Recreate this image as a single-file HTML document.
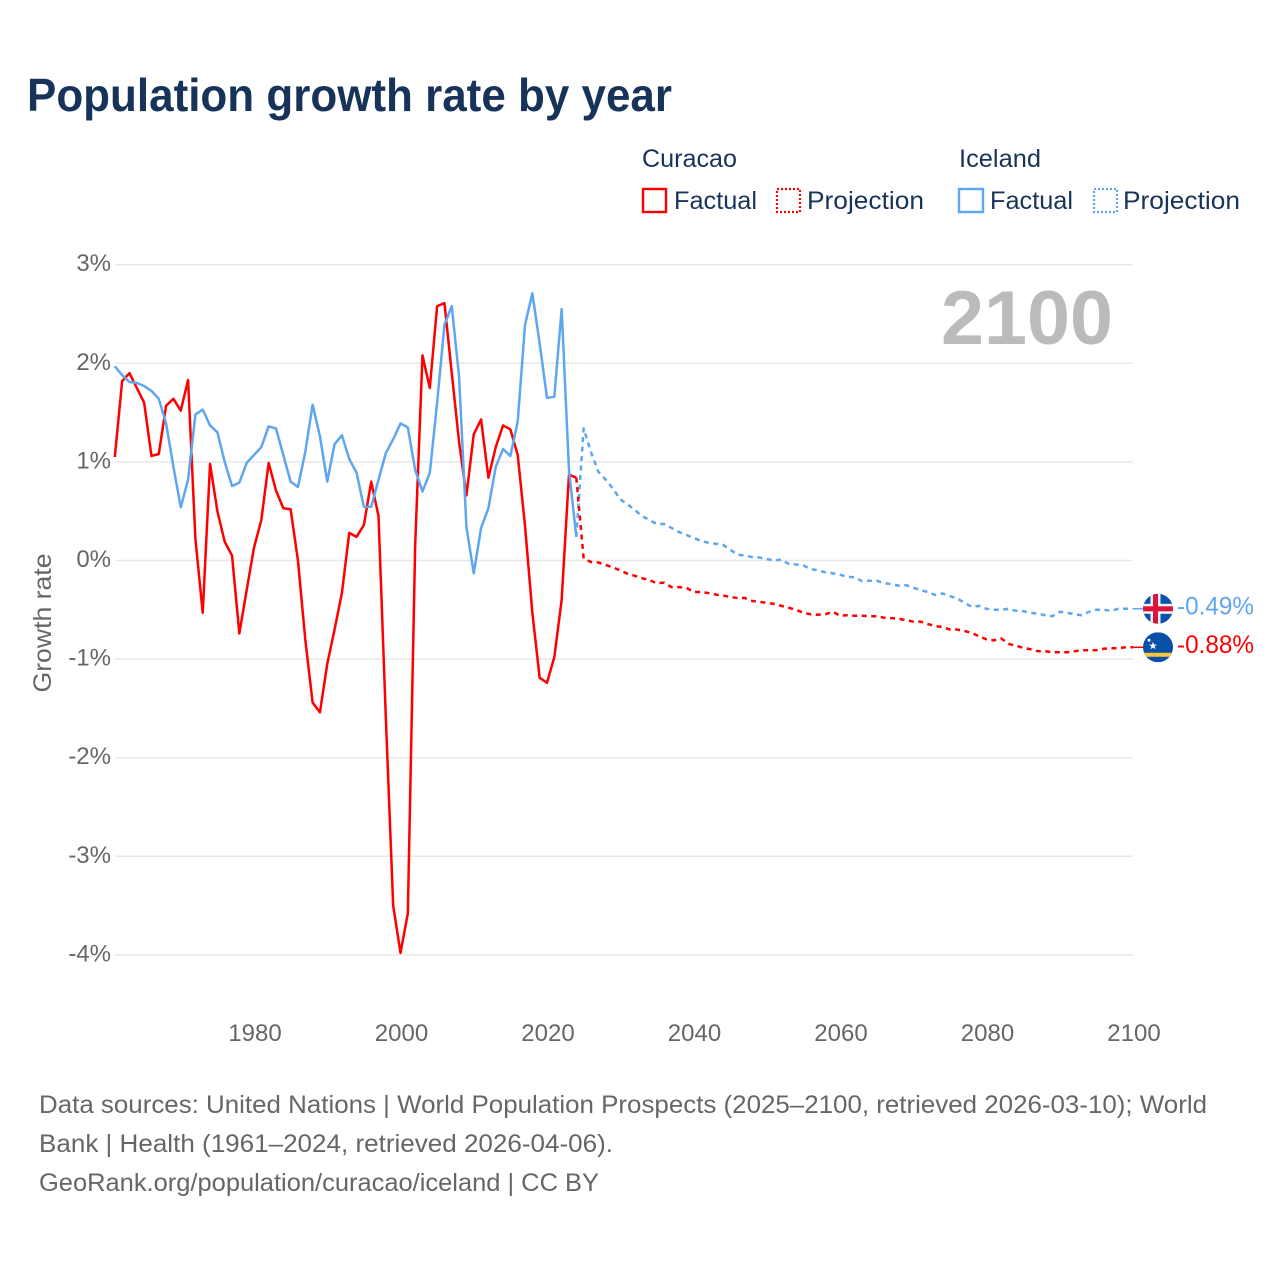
<!DOCTYPE html>
<html lang="en">
<head>
<meta charset="utf-8">
<title>Population growth rate by year</title>
<style>
html,body{margin:0;padding:0;background:#fff;}
svg{display:block;font-family:"Liberation Sans",sans-serif;}
</style>
</head>
<body>
<svg id="chart" xmlns="http://www.w3.org/2000/svg" width="1280" height="1280" viewBox="0 0 1280 1280">
  <rect x="0" y="0" width="1280" height="1280" fill="#ffffff"/>
  <text x="27" y="111" font-size="46" font-weight="700" fill="#18335a" textLength="645" lengthAdjust="spacingAndGlyphs">Population growth rate by year</text>

  <g font-size="25" fill="#18335a">
    <text x="642" y="167" textLength="95" lengthAdjust="spacingAndGlyphs">Curacao</text>
    <text x="959" y="167" textLength="82" lengthAdjust="spacingAndGlyphs">Iceland</text>
    <rect x="643" y="189" width="23" height="23" fill="none" stroke="#ff0000" stroke-width="2.4"/>
    <text x="674" y="209" textLength="83" lengthAdjust="spacingAndGlyphs">Factual</text>
    <rect x="777" y="189" width="23" height="23" fill="none" stroke="#ff0000" stroke-width="2.2" stroke-dasharray="2 2"/>
    <text x="807" y="209" textLength="117" lengthAdjust="spacingAndGlyphs">Projection</text>
    <rect x="959" y="189" width="24" height="23" fill="none" stroke="#5ea6ef" stroke-width="2.4"/>
    <text x="990" y="209" textLength="83" lengthAdjust="spacingAndGlyphs">Factual</text>
    <rect x="1094" y="189" width="23" height="23" fill="none" stroke="#5ea6ef" stroke-width="2.2" stroke-dasharray="2 2"/>
    <text x="1123" y="209" textLength="117" lengthAdjust="spacingAndGlyphs">Projection</text>
  </g>

  <g id="grid"></g>
  <g id="yticks"></g>
  <g id="xticks"></g>
  <text transform="translate(51,623) rotate(-90)" text-anchor="middle" font-size="25" fill="#666666" textLength="139" lengthAdjust="spacingAndGlyphs">Growth rate</text>
  <text x="1113" y="344" text-anchor="end" font-size="76" font-weight="700" fill="#bbbbbb" textLength="172" lengthAdjust="spacingAndGlyphs">2100</text>
  <g id="series"></g>

  <g id="flag-iceland">
    <clipPath id="clip-is"><circle cx="0" cy="0" r="15"/></clipPath>
    <g clip-path="url(#clip-is)">
      <rect x="-15" y="-15" width="30" height="30" fill="#0a52b0"/>
      <rect x="-15" y="-5" width="30" height="10" fill="#f2f2f2"/>
      <rect x="-7.5" y="-15" width="10" height="30" fill="#f2f2f2"/>
      <rect x="-15" y="-2.5" width="30" height="5" fill="#dc143c"/>
      <rect x="-5" y="-15" width="5" height="30" fill="#dc143c"/>
    </g>
  </g>
  <g id="flag-curacao">
    <clipPath id="clip-cw"><circle cx="0" cy="0" r="15"/></clipPath>
    <g clip-path="url(#clip-cw)">
      <rect x="-15" y="-15" width="30" height="30" fill="#0a4fa8"/>
      <rect x="-15" y="5.5" width="30" height="4" fill="#f5c93a"/>
      <polygon points="-5,-5.5 -4,-2.7 -1,-2.7 -3.4,-0.9 -2.5,2 -5,0.2 -7.5,2 -6.6,-0.9 -9,-2.7 -6,-2.7" fill="#ffffff"/>
      <circle cx="-9" cy="-7" r="1.5" fill="#ffffff"/>
    </g>
  </g>
  <text id="label-iceland" font-size="25" fill="#5ea6ef" textLength="77" lengthAdjust="spacingAndGlyphs"></text>
  <text id="label-curacao" font-size="25" fill="#ff0000" textLength="77" lengthAdjust="spacingAndGlyphs"></text>

  <g font-size="25" fill="#666666">
    <text x="39" y="1113" textLength="1168" lengthAdjust="spacingAndGlyphs">Data sources: United Nations | World Population Prospects (2025–2100, retrieved 2026-03-10); World</text>
    <text x="39" y="1152" textLength="574" lengthAdjust="spacingAndGlyphs">Bank | Health (1961–2024, retrieved 2026-04-06).</text>
    <text x="39" y="1191" textLength="560" lengthAdjust="spacingAndGlyphs">GeoRank.org/population/curacao/iceland | CC BY</text>
  </g>
</svg>
<script>
const yTickValues = [3, 2, 1, 0, -1, -2, -3, -4];
const xTickYears = [1980, 2000, 2020, 2040, 2060, 2080, 2100];
const factualStartYear = 1961;
const projectionStartYear = 2024;
const curacaoFactual = [1.05,1.82,1.90,1.75,1.60,1.06,1.08,1.57,1.64,1.52,1.83,0.22,-0.53,0.98,0.50,0.19,0.05,-0.74,-0.30,0.13,0.41,0.99,0.71,0.53,0.52,0.0,-0.80,-1.44,-1.54,-1.05,-0.70,-0.33,0.28,0.24,0.36,0.80,0.45,-1.60,-3.50,-3.98,-3.58,0.15,2.08,1.75,2.58,2.61,1.90,1.20,0.66,1.28,1.43,0.84,1.15,1.37,1.33,1.07,0.35,-0.53,-1.19,-1.24,-0.98,-0.40,0.87,0.84];
const icelandFactual = [1.97,1.88,1.81,1.80,1.77,1.72,1.64,1.39,0.95,0.54,0.82,1.48,1.53,1.37,1.30,1.00,0.755,0.79,0.99,1.07,1.15,1.36,1.34,1.07,0.80,0.745,1.10,1.58,1.26,0.80,1.18,1.27,1.03,0.89,0.545,0.545,0.82,1.09,1.23,1.39,1.35,0.92,0.70,0.89,1.60,2.39,2.58,1.86,0.34,-0.13,0.33,0.53,0.95,1.13,1.06,1.41,2.39,2.71,2.20,1.65,1.66,2.55,0.92,0.24];
const curacaoProjection = [0.84,0.02,-0.015,-0.02,-0.045,-0.07,-0.10,-0.135,-0.155,-0.18,-0.20,-0.23,-0.225,-0.27,-0.27,-0.275,-0.32,-0.32,-0.33,-0.345,-0.355,-0.37,-0.38,-0.38,-0.41,-0.42,-0.43,-0.44,-0.46,-0.48,-0.50,-0.53,-0.545,-0.55,-0.545,-0.52,-0.56,-0.555,-0.56,-0.56,-0.565,-0.565,-0.58,-0.585,-0.59,-0.605,-0.62,-0.62,-0.645,-0.665,-0.675,-0.70,-0.70,-0.715,-0.735,-0.77,-0.80,-0.81,-0.79,-0.845,-0.865,-0.885,-0.90,-0.92,-0.92,-0.93,-0.93,-0.93,-0.92,-0.91,-0.91,-0.91,-0.895,-0.89,-0.89,-0.88,-0.88];
const icelandProjection = [0.24,1.34,1.10,0.90,0.82,0.73,0.62,0.57,0.51,0.45,0.41,0.37,0.37,0.33,0.29,0.26,0.23,0.20,0.18,0.17,0.16,0.11,0.06,0.05,0.035,0.03,0.015,0.0,0.01,-0.035,-0.04,-0.05,-0.087,-0.10,-0.12,-0.13,-0.145,-0.165,-0.17,-0.21,-0.205,-0.205,-0.23,-0.24,-0.255,-0.25,-0.275,-0.30,-0.32,-0.35,-0.335,-0.36,-0.385,-0.43,-0.47,-0.46,-0.49,-0.50,-0.50,-0.49,-0.51,-0.515,-0.53,-0.54,-0.555,-0.565,-0.52,-0.53,-0.545,-0.555,-0.52,-0.50,-0.50,-0.51,-0.49,-0.49,-0.49];

const NS = 'http://www.w3.org/2000/svg';
const plotLeft = 115, plotRight = 1133;
function xScale(year) { return 254 + (year - 1980) * 7.325; }
function yScale(value) { return 560.5 - value * 98.6; }
function fmtPct(v) { return v.toFixed(2) + '%'; }
function linePath(values, startYear) {
  return values.map(function (v, i) {
    return (i ? 'L' : 'M') + xScale(startYear + i).toFixed(2) + ' ' + yScale(v).toFixed(2);
  }).join(' ');
}

const grid = document.getElementById('grid');
const yticks = document.getElementById('yticks');
yTickValues.forEach(function (v) {
  const line = document.createElementNS(NS, 'line');
  
  
  line.setAttribute('x1', plotLeft);
  line.setAttribute('x2', plotRight);
  line.setAttribute('y1', yScale(v));
  line.setAttribute('y2', yScale(v));
  line.setAttribute('stroke', '#e8e8e8');
  line.setAttribute('stroke-width', '1.5');
  grid.appendChild(line);
  const t = document.createElementNS(NS, 'text');
  
  
  t.setAttribute('x', 111);
  t.setAttribute('y', yScale(v) + 6.5);
  t.setAttribute('text-anchor', 'end');
  t.setAttribute('font-size', '24');
  t.setAttribute('fill', '#666666');
  t.textContent = v + '%';
  yticks.appendChild(t);
});

const xticks = document.getElementById('xticks');
xTickYears.forEach(function (y) {
  const t = document.createElementNS(NS, 'text');
  
  
  t.setAttribute('x', xScale(y) + 1);
  t.setAttribute('y', 1041);
  t.setAttribute('text-anchor', 'middle');
  t.setAttribute('font-size', '24');
  t.setAttribute('fill', '#666666');
  t.textContent = y;
  xticks.appendChild(t);
});

const series = document.getElementById('series');
function addLine(name, values, startYear, color, dash) {
  const p = document.createElementNS(NS, 'path');
  
  
  p.setAttribute('d', linePath(values, startYear));
  p.setAttribute('fill', 'none');
  p.setAttribute('stroke', color);
  p.setAttribute('stroke-width', '2.5');
  p.setAttribute('stroke-linejoin', 'round');
  if (dash) p.setAttribute('stroke-dasharray', dash);
  series.appendChild(p);
}
addLine('curacao-factual-line', curacaoFactual, factualStartYear, '#ff0000');
addLine('iceland-factual-line', icelandFactual, factualStartYear, '#5ea6ef');
addLine('iceland-projection-line', icelandProjection, projectionStartYear, '#5ea6ef', '5 4.5');
addLine('curacao-projection-line', curacaoProjection, projectionStartYear, '#ff0000', '5 4.5');

function placeEnd(flagId, labelId, values, color, name) {
  const last = values[values.length - 1];
  const yy = yScale(last);
  const conn = document.createElementNS(NS, 'line');
  
  
  conn.setAttribute('x1', xScale(2100));
  conn.setAttribute('x2', 1144);
  conn.setAttribute('y1', yy);
  conn.setAttribute('y2', yy);
  conn.setAttribute('stroke', color);
  conn.setAttribute('stroke-width', '1.5');
  series.appendChild(conn);
  document.getElementById(flagId).setAttribute('transform', 'translate(1158 ' + yy.toFixed(2) + ')');
  const lab = document.getElementById(labelId);
  lab.setAttribute('x', 1177);
  lab.setAttribute('y', (yy + 5.5).toFixed(2));
  lab.textContent = fmtPct(last);
}
placeEnd('flag-iceland', 'label-iceland', icelandProjection, '#5ea6ef', 'iceland-end-connector');
placeEnd('flag-curacao', 'label-curacao', curacaoProjection, '#ff0000', 'curacao-end-connector');
</script>
</body>
</html>
